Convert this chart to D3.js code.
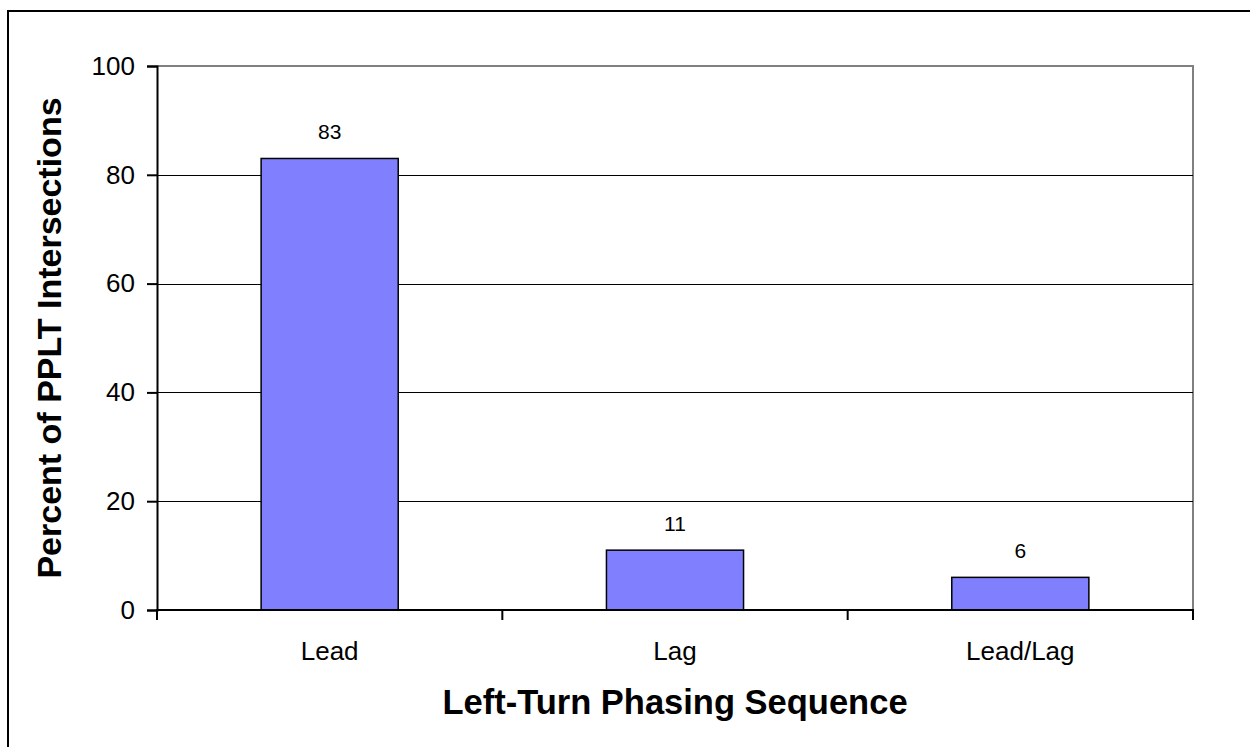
<!DOCTYPE html>
<html>
<head>
<meta charset="utf-8">
<script src="https://cdn.jsdelivr.net/npm/d3@7"></script>
<style>
  html, body { margin: 0; padding: 0; background: #fff; }
  svg { display: block; font-family: "Liberation Sans", Arial, sans-serif; }
</style>
</head>
<body>
<svg id="chart" width="1250" height="747"></svg>
<script>
// Share of PPLT intersections by left-turn phasing sequence
const categories = ["Lead", "Lag", "Lead/Lag"];
const percents = [83, 11, 6];
const yTicks = [0, 20, 40, 60, 80, 100];

const svg = d3.select("#chart");

// outer frame (right and bottom edges run past the canvas)
svg.append("rect")
  .attr("x", 8).attr("y", 11)
  .attr("width", 1300).attr("height", 800)
  .attr("fill", "none").attr("stroke", "#000").attr("stroke-width", 2);

const plotLeft = 157, plotRight = 1193, plotTop = 66, plotBottom = 610;

const xOuter = d3.scaleBand().domain(categories).range([plotLeft, plotRight]);
const y = d3.scaleLinear().domain([0, 100]).range([plotBottom, plotTop]);

// plot area outline: top and right edges in grey
svg.append("path")
  .attr("d", `M${plotLeft},${plotTop}H${plotRight}V${plotBottom}`)
  .attr("fill", "none").attr("stroke", "#808080").attr("stroke-width", 2);

// horizontal gridlines
svg.append("g").selectAll("line")
  .data(yTicks.filter(t => t > 0 && t < 100))
  .join("line")
  .attr("x1", plotLeft).attr("x2", plotRight)
  .attr("y1", d => Math.round(y(d)) + 0.5).attr("y2", d => Math.round(y(d)) + 0.5)
  .attr("stroke", "#000").attr("stroke-width", 1);

// bars
const bw = xOuter.bandwidth() * 0.397;
svg.append("g").selectAll("rect")
  .data(categories)
  .join("rect")
  .attr("x", (d) => xOuter(d) + (xOuter.bandwidth() - bw) / 2)
  .attr("y", (d, i) => y(percents[i]))
  .attr("width", bw)
  .attr("height", (d, i) => y(0) - y(percents[i]))
  .attr("fill", "#8080FF").attr("stroke", "#000").attr("stroke-width", 1.5);

// value labels
svg.append("g").selectAll("text")
  .data(categories)
  .join("text")
  .attr("x", d => xOuter(d) + xOuter.bandwidth() / 2)
  .attr("y", (d, i) => y(percents[i]) - 19)
  .attr("text-anchor", "middle")
  .attr("font-size", 21)
  .attr("fill", "#000")
  .text((d, i) => percents[i]);

// y axis
const yAxis = svg.append("g")
  .attr("transform", `translate(${plotLeft},0)`)
  .call(d3.axisLeft(y).tickValues(yTicks).tickSize(10).tickPadding(12).tickFormat(d3.format("d")));
yAxis.select(".domain").attr("stroke", "#000").attr("stroke-width", 2);
yAxis.selectAll(".tick line").attr("stroke", "#000").attr("stroke-width", 2);
yAxis.selectAll(".tick text").attr("font-size", 26).attr("font-family", "Liberation Sans, Arial, sans-serif").attr("fill", "#000");

// x axis with ticks at category boundaries
const xAxisG = svg.append("g").attr("transform", `translate(0,${plotBottom})`);
xAxisG.append("line")
  .attr("x1", plotLeft).attr("x2", plotRight).attr("y1", 0).attr("y2", 0)
  .attr("stroke", "#000").attr("stroke-width", 2);
const boundaries = categories.map(c => xOuter(c)).concat([plotRight]);
xAxisG.selectAll("line.tk")
  .data(boundaries)
  .join("line").attr("class", "tk")
  .attr("x1", d => d).attr("x2", d => d).attr("y1", -1).attr("y2", 10)
  .attr("stroke", "#000").attr("stroke-width", 2);
xAxisG.selectAll("text")
  .data(categories)
  .join("text")
  .attr("x", d => xOuter(d) + xOuter.bandwidth() / 2)
  .attr("y", 50)
  .attr("text-anchor", "middle")
  .attr("font-size", 26)
  .attr("fill", "#000")
  .text(d => d);

// axis titles
svg.append("text")
  .attr("x", (plotLeft + plotRight) / 2).attr("y", 714)
  .attr("text-anchor", "middle")
  .attr("font-size", 34.5).attr("font-weight", "bold")
  .text("Left-Turn Phasing Sequence");

svg.append("text")
  .attr("transform", `translate(61,${(plotTop + plotBottom) / 2}) rotate(-90)`)
  .attr("text-anchor", "middle")
  .attr("font-size", 34).attr("font-weight", "bold")
  .text("Percent of PPLT Intersections");
</script>
</body>
</html>
